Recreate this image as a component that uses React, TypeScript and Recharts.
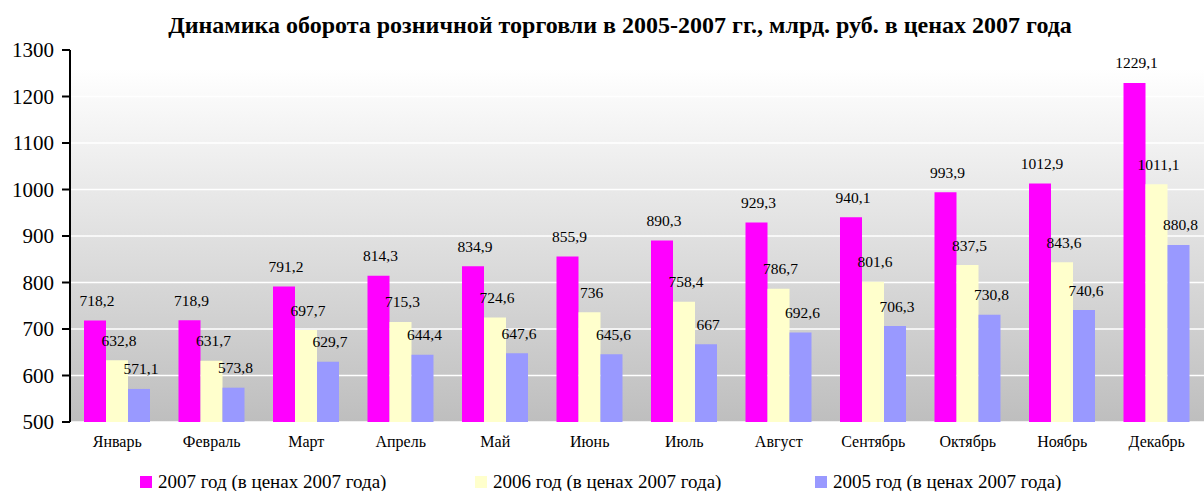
import React from "react";
import { BarChart, Bar, XAxis, YAxis, CartesianGrid, LabelList } from "recharts";

const months = ["Январь", "Февраль", "Март", "Апрель", "Май", "Июнь", "Июль", "Август", "Сентябрь", "Октябрь", "Ноябрь", "Декабрь"];
const values2007 = [718.2, 718.9, 791.2, 814.3, 834.9, 855.9, 890.3, 929.3, 940.1, 993.9, 1012.9, 1229.1];
const values2006 = [632.8, 631.7, 697.7, 715.3, 724.6, 736, 758.4, 786.7, 801.6, 837.5, 843.6, 1011.1];
const values2005 = [571.1, 573.8, 629.7, 644.4, 647.6, 645.6, 667, 692.6, 706.3, 730.8, 740.6, 880.8];
const yTicks = [500, 600, 700, 800, 900, 1000, 1100, 1200, 1300];
const edgeTicks = [0, 1, 2, 3, 4, 5, 6, 7, 8, 9, 10, 11, 12];
const seriesNames = ["2007 год (в ценах 2007 года)", "2006 год (в ценах 2007 года)", "2005 год (в ценах 2007 года)"];
const colors = ["#ff00ff", "#ffffcc", "#9999ff"];

const data = months.map((m, i) => ({
  month: m,
  idx: i + 0.5,
  v2007: values2007[i],
  v2006: values2006[i],
  v2005: values2005[i],
}));

const FONT = "'Liberation Serif', 'Times New Roman', serif";

const fmt = (v: number) => String(v).replace(".", ",");

const ValueLabel = (props: any) => {
  const { x, y, width, value } = props;
  return (
    <text
      x={x + width / 2 + 2}
      y={y - 20}
      textAnchor="middle"
      dominantBaseline="central"
      fontFamily={FONT}
      fontSize={15.5}
      fill="#000"
    >
      {fmt(value)}
    </text>
  );
};

export default function App() {
  return (
    <div style={{ position: "absolute", left: 0, top: 0, width: 1204, height: 491, background: "#fff", fontFamily: FONT }}>
      <BarChart
        width={1204}
        height={491}
        data={data}
        margin={{ top: 50, right: 0, left: 0, bottom: 29 }}
        barCategoryGap={14}
        barGap={0}
      >
        <defs>
          <linearGradient id="bgGrad" x1="0" y1="0" x2="0" y2="1">
            <stop offset="5%" stopColor="#ffffff" />
            <stop offset="100%" stopColor="#bebebe" />
          </linearGradient>
        </defs>
        <CartesianGrid vertical={false} stroke="#ffffff" strokeWidth={1.5} fill="url(#bgGrad)" fillOpacity={1} />
        <XAxis
          xAxisId="edges"
          type="number"
          dataKey="idx"
          domain={[0, 12]}
          ticks={edgeTicks}
          tickFormatter={() => ""}
          height={0}
          axisLine={{ stroke: "#000", strokeWidth: 2 }}
          tickLine={{ stroke: "#000", strokeWidth: 2 }}
          tickSize={6}
          interval={0}
        />
        <XAxis
          xAxisId="cat"
          dataKey="month"
          axisLine={false}
          tickLine={false}
          height={40}
          interval={0}
          tick={{ fontSize: 16, fontFamily: FONT, fill: "#000", dy: 6 }}
        />
        <YAxis
          domain={[500, 1300]}
          ticks={yTicks}
          interval={0}
          width={70}
          axisLine={{ stroke: "#000", strokeWidth: 2 }}
          tickLine={{ stroke: "#000", strokeWidth: 2 }}
          tickSize={8}
          tickMargin={8}
          tick={{ fontSize: 21, fontFamily: FONT, fill: "#000" }}
          allowDataOverflow
        />
        <Bar xAxisId="cat" dataKey="v2007" fill={colors[0]} isAnimationActive={false}>
          <LabelList dataKey="v2007" content={ValueLabel} />
        </Bar>
        <Bar xAxisId="cat" dataKey="v2006" fill={colors[1]} isAnimationActive={false}>
          <LabelList dataKey="v2006" content={ValueLabel} />
        </Bar>
        <Bar xAxisId="cat" dataKey="v2005" fill={colors[2]} isAnimationActive={false}>
          <LabelList dataKey="v2005" content={ValueLabel} />
        </Bar>
      </BarChart>
      <div
        style={{
          position: "absolute",
          left: 0,
          top: 10,
          width: 1240,
          textAlign: "center",
          fontWeight: "bold",
          fontSize: 24,
          lineHeight: "30px",
          fontFamily: FONT,
          color: "#000",
          whiteSpace: "nowrap",
        }}
      >
        Динамика оборота розничной торговли в 2005-2007 гг., млрд. руб. в ценах 2007 года
      </div>
      {seriesNames.map((name, i) => (
        <div
          key={name}
          style={{
            position: "absolute",
            left: [140, 475, 815][i],
            top: 470,
            height: 24,
            display: "flex",
            alignItems: "center",
            fontSize: 19,
            fontFamily: FONT,
            color: "#000",
            whiteSpace: "nowrap",
          }}
        >
          <span style={{ display: "inline-block", width: 12, height: 12, background: colors[i], marginRight: 6 }} />
          {name}
        </div>
      ))}
    </div>
  );
}
